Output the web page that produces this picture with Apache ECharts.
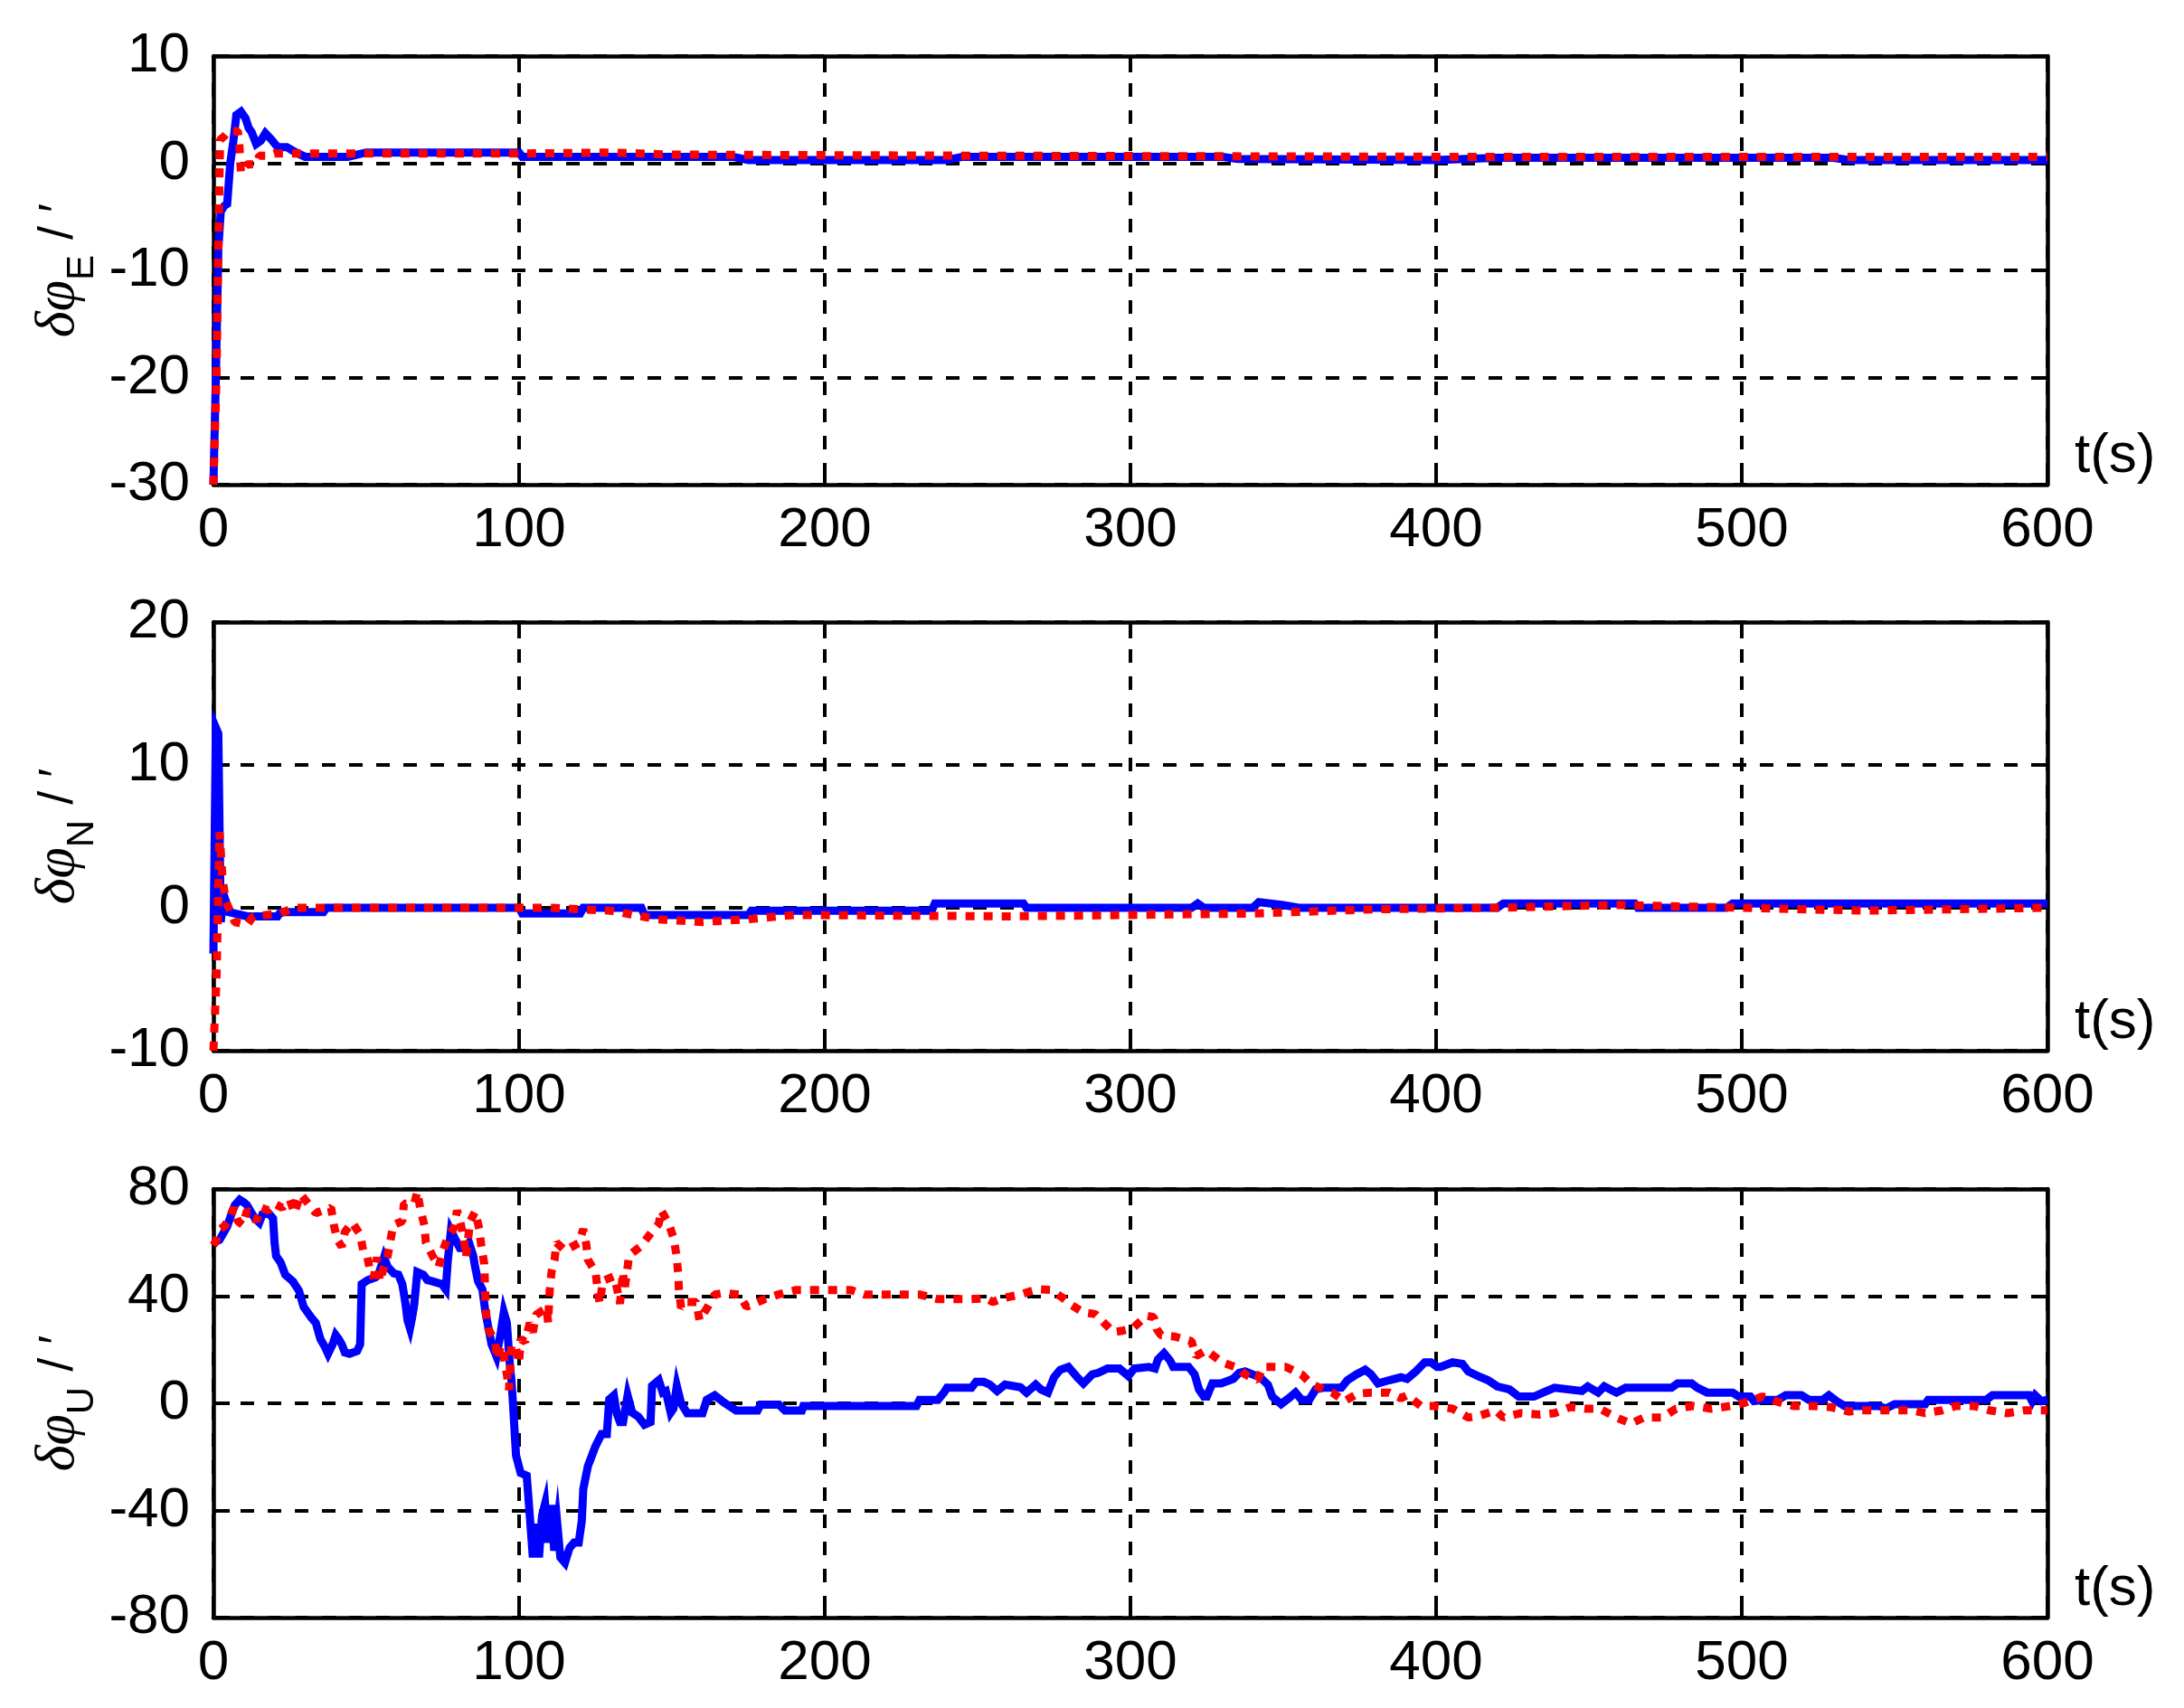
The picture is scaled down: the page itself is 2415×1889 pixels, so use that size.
<!DOCTYPE html>
<html>
<head>
<meta charset="utf-8">
<script src="https://cdn.jsdelivr.net/npm/echarts@6/dist/echarts.min.js"></script>
<style>html,body{margin:0;padding:0;background:#fff}#c{width:2415px;height:1889px}</style>
</head>
<body>
<div id="c"></div>
<script>
// ---- data (t in s, value in arc-minutes) ----
var xTicks = [0, 100, 200, 300, 400, 500, 600];
var yLabelsE = [-30, -20, -10, 0, 10];
var yLabelsN = [-10, 0, 10, 20];
var yLabelsU = [-80, -40, 0, 40, 80];

var blueE = [[0,-30],[0.8,-20],[1.6,-8],[2.4,-4.5],[3.5,-4],[4.5,-3.8],[5.5,0],[6.5,2],[7.5,4.5],[9,4.8],[10.5,4.2],[11.5,3.3],[12.5,2.9],[14,1.8],[15.5,2.1],[17,2.8],[19,2.2],[21,1.5],[24,1.5],[27,1.0],[30,0.6],[44,0.6],[50,1.0],[100,1.0],[101,0.6],[170,0.6],[175,0.3],[240,0.3],[245,0.6],[330,0.6],[335,0.4],[400,0.3],[420,0.5],[530,0.5],[535,0.3],[600,0.3]];
var redE = [[0,-30],[1,-20],[1.8,-4.3],[2.2,2.2],[3.5,2.5],[5,3],[8,3],[8.5,1.6],[9,-0.9],[11,-0.1],[14,-0.1],[15,0.7],[18,0.7],[20,0.9],[100,0.9],[130,1.0],[150,0.8],[250,0.7],[400,0.6],[600,0.6]];

var blueN = [[0,-3.2],[0.8,12.6],[1.6,12.2],[2.4,-1],[3.2,1],[4,0.5],[5,-0.3],[11,-0.6],[21,-0.6],[22,-0.3],[36,-0.3],[37,0],[100,0],[101,-0.4],[120,-0.4],[121,0],[140,0],[141,-0.5],[175,-0.5],[176,-0.2],[235,-0.2],[236,0.3],[265,0.3],[266,0],[320,0],[322,0.3],[324,0],[340,0],[342,0.4],[350,0.2],[355,0],[420,0],[422,0.3],[465,0.3],[466,0],[495,0],[497,0.3],[600,0.3]];
var redN = [[0,-10],[1,-5],[2,5.3],[3,2],[4,0.5],[5,0],[7,-1],[11,-1.2],[13,-0.6],[22,-0.4],[26,0],[110,0],[130,-0.2],[145,-0.8],[160,-1],[175,-0.8],[190,-0.5],[260,-0.6],[300,-0.5],[340,-0.4],[380,-0.1],[420,0],[460,0.2],[500,0],[540,-0.2],[600,0]];

var blueU = [[0,60],[2,61],[3,63],[4.5,66],[5.7,70],[7,74],[8.6,76],[10,75],[11,74],[12.5,71],[13.6,69],[15,67.5],[16,70.5],[18,71],[19.5,69],[20,60],[20.5,55],[22,52.5],[23.5,48],[26,45.5],[28,42],[29.5,36],[32,32],[33.5,30],[35,24],[36.5,21],[37.5,18.5],[39,22],[40,25.5],[41,24],[42,22],[43,19],[44.5,18.5],[47,19.5],[48,22],[48.5,44.5],[50.5,46],[53,47],[54,48],[55.8,54.5],[57,51],[59,48.5],[60.5,48],[61.8,44.5],[62.8,37.5],[63.5,31],[64.3,28],[65,32],[65.7,37],[66.7,49],[68.7,48],[70,46],[71.7,45.5],[74.7,44.5],[76,42.5],[76.7,53.5],[77.7,64.5],[79,61.5],[80.6,58],[82,58],[83.6,60],[85,55],[85.6,51],[86.6,45.5],[88,42.5],[89,34],[90,28],[91,22],[92.6,17.5],[94,26.5],[95,34],[96,30],[96.5,22],[97,14],[97.5,8.5],[98,0],[99,-19.5],[100.5,-26],[102.5,-27],[103.5,-42],[104.5,-57.5],[105.5,-45],[106.5,-57.5],[107.5,-42],[108.5,-37.5],[109.5,-52],[110.5,-38],[111.5,-55],[112.5,-45],[113.5,-57.5],[115,-59.5],[116.5,-54],[118,-52],[119.5,-52],[120.5,-44],[121,-32],[122.5,-23.5],[125,-16],[127,-11.5],[128.7,-11.5],[129.5,1.5],[131,3],[132,-4],[133,-7],[134,-7],[135.5,3],[137,-3.5],[139,-5],[141,-8],[143,-7],[143.5,6.5],[145.7,8.6],[147,4],[148,4.5],[149.6,-3.5],[150.5,-2],[151.6,6.5],[153,0],[155,-3.7],[160,-3.7],[161.4,1.3],[164,3],[167,0.3],[171,-2.7],[178,-2.7],[179,-0.5],[185,-0.5],[187,-2.7],[192.5,-2.7],[193,-1],[230,-1],[231,1.3],[237,1.3],[239,4],[240,5.8],[248,5.8],[249.5,8],[252,8],[254,7],[256.4,4.6],[259,7],[264,6],[266,4],[269,7],[270.7,5.2],[273,4],[275,9.7],[277,12.5],[279.7,13.6],[282.6,9.7],[284.6,7.4],[287.5,10.8],[289.5,11.4],[292.5,13],[296.4,13],[299.3,10.2],[301.3,13],[306,13.6],[308,13],[309,16.4],[311,18.7],[313,15.9],[314,13.6],[319,13.6],[321,10.8],[322.4,5.2],[324,2.5],[325,2.5],[326.8,7.4],[329.7,7.4],[333.6,9.1],[335.6,11.4],[337.5,11.9],[342.4,9.7],[345,6.9],[346.4,2.5],[349.3,-0.3],[351.8,1.9],[354,4],[356,1.3],[358.5,1.3],[360.6,5.2],[363,5.8],[369,5.8],[371,8.6],[374,10.8],[376.8,12.5],[378.7,10.8],[381,7.4],[384.6,8.6],[388.5,9.7],[390.5,9.1],[393.4,11.9],[396.3,15.3],[398.3,15.3],[400.3,13.6],[401.5,13.6],[405.4,15.3],[408.6,14.7],[410.5,11.9],[413.7,10.2],[417,8.6],[420,6.3],[424,5.2],[427,2.5],[432,2.5],[435,4],[438.7,5.8],[447.7,4.6],[449.6,6.3],[453,4],[455,6.3],[459,4],[462,5.8],[477,5.8],[479,7.4],[483.6,7.4],[485.5,5.8],[488.7,4],[497,4],[499,2.5],[502.8,2.5],[504,0.8],[508,1.3],[511.8,1.3],[514.4,3],[519.5,3],[522,1.3],[526.5,1.3],[528.5,3],[531,0.8],[533.6,-1],[545,-1],[547,-2],[550,-0.3],[560,-0.3],[561,1.3],[580,1.3],[582,3],[594,3],[595,0.8],[596,3],[598,0.8],[600,1.3]];

var redU = [[0,59],[1,61],[2.2,65],[3.5,66],[4.7,68],[6.7,73],[8,68],[9.6,66.5],[11,72],[12.6,70.5],[14,68],[15.6,73],[18,72],[20,74.5],[22.5,73],[25,76],[26.5,71],[28.5,78],[30,76],[32,73],[33.5,71],[36,72],[38.5,73],[39.5,66],[40.5,61],[42,58.5],[43,64],[45.4,67.5],[48,63],[49,57],[50.3,55],[51.3,49],[52.5,47],[53.5,54.5],[54.5,45.5],[55.8,51],[57,55],[57.8,60],[58.8,66.5],[61.8,68],[62.3,74.5],[65.7,74.5],[66.7,79],[67.7,72.5],[69,66.5],[69.5,60],[71.7,55],[73.7,51],[75.2,57.5],[76.7,62],[78.7,65.5],[79.7,72],[81,66.5],[82,61],[82.6,54.5],[84,68],[85.6,71.5],[87,65],[87.6,59],[88.6,52],[88.8,45.5],[89,39],[89.3,32.5],[90,27.5],[92,23.5],[93,16.5],[94,21.5],[95,17.5],[96,10.8],[96.7,5],[97.5,22],[99,20.5],[100,15],[100.5,24],[102,23],[103.5,30],[104.5,26.5],[105.5,33],[107.5,34.5],[109,35.5],[109.5,30],[110,42],[110.6,49],[111.6,53.6],[112.2,60],[115,57],[119.5,59.8],[121,65],[122,59.2],[122.5,53.6],[125,49],[126,40],[126.4,37.2],[127.4,45.7],[131,47.4],[132,43],[133,37.2],[134,49],[134.5,42.3],[136,55.2],[137.3,56.4],[139.8,58.6],[141.7,61.4],[143.2,63.7],[145.7,67],[146.5,72],[149,67],[150.6,61.4],[151.5,55.2],[152,49],[152.3,42.3],[153,35.6],[154.6,37.8],[158,37.8],[159,31],[161.5,35.6],[164,40.6],[167,41.2],[172,40.6],[174.4,36],[180.3,38.9],[184.8,40.6],[190.7,42.3],[208.5,42.3],[213,40.6],[231,40.6],[237,38.9],[247.4,38.9],[252.7,39.2],[255,37.8],[258,39.2],[264,40.6],[267,41.7],[270,42.6],[274,42.3],[277.7,39.5],[280.7,36.7],[284.6,33.9],[288.5,33.3],[290.5,31],[294.4,26.6],[297,27],[300.8,28],[305.2,32.7],[307.6,32.2],[308.6,27.7],[310,25.4],[314.5,24.9],[320,23.2],[321.4,17.6],[324.8,19.8],[330,15.3],[335.6,13],[337.5,10.8],[341.5,8.6],[343.4,13.6],[350.8,13.6],[356,10.8],[359,7.4],[363,5.2],[366,4],[370,0.8],[374.3,3.6],[378.7,4],[384.6,4],[388.5,1.9],[390.5,3],[395,-1],[399.3,-1],[405.4,-2],[410.5,-5.3],[413.7,-4.8],[419.5,-2.7],[422,-5.3],[427.8,-3.7],[434,-4.2],[438.7,-3.7],[444,-1.4],[449,-2],[453.5,-2],[459,-5.3],[463.7,-7.6],[468,-5.3],[474,-5.3],[478.5,-2],[484,-1],[490,-2],[496.4,-1],[501,0.2],[506.7,2.5],[511,0.8],[517,-1],[522.7,-1],[529,-1.4],[535,-3.1],[539,-2.6],[555.4,-2.6],[560,-3.7],[565.6,-2.6],[570,-1],[576,-1],[581,-2.6],[586.8,-3.7],[592.6,-2.6],[600,-2.6]];

var panels = [
  {sub: 'E', ymin: -30, ymax: 10, step: 10, blue: blueE, red: redE},
  {sub: 'N', ymin: -10, ymax: 20, step: 10, blue: blueN, red: redN},
  {sub: 'U', ymin: -80, ymax: 80, step: 40, blue: blueU, red: redU}
];
var tops = [62, 688, 1315];

var FONT = "'Liberation Sans', Arial, sans-serif";
var LBL = 62;
var grids = [], xAxes = [], yAxes = [], series = [];
panels.forEach(function (p, i) {
  grids.push({left: 236, top: tops[i], width: 2028, height: 474, outerBoundsMode: 'none', containLabel: false});
  var axLine = {show: true, onZero: false, lineStyle: {color: '#000', width: 4.5}};
  var tick = {show: true, inside: true, length: 18, lineStyle: {color: '#000', width: 4}};
  var split = {show: true, lineStyle: {color: '#000', width: 4, type: [15, 15]}};
  xAxes.push({
    type: 'value', gridIndex: i, min: 0, max: 600, interval: 100, position: 'bottom',
    axisLine: axLine, axisTick: tick, splitLine: split,
    axisLabel: {show: true, margin: 20, fontSize: LBL, fontFamily: FONT, color: '#000'},
    name: 't(s)', nameLocation: 'end', nameGap: 30, nameMoveOverlap: false,
    nameTextStyle: {fontSize: LBL, fontFamily: FONT, color: '#000', verticalAlign: 'bottom', align: 'left'}
  });
  xAxes.push({
    type: 'value', gridIndex: i, min: 0, max: 600, interval: 100, position: 'top',
    axisLine: axLine, axisTick: tick, splitLine: {show: false}, axisLabel: {show: false}
  });
  yAxes.push({
    type: 'value', gridIndex: i, min: p.ymin, max: p.ymax, interval: p.step, position: 'left',
    axisLine: axLine, axisTick: tick, splitLine: split,
    axisLabel: {show: true, margin: 26, fontSize: LBL, fontFamily: FONT, color: '#000'},
    name: '{g|δφ}{s|' + p.sub + '}{p| / ′}', nameLocation: 'middle', nameRotate: 90, nameGap: 124, nameMoveOverlap: false,
    nameTextStyle: {
      color: '#000',
      rich: {
        g: {fontSize: 62, fontFamily: "'Liberation Serif', 'DejaVu Serif', serif", fontStyle: 'italic', color: '#000'},
        s: {fontSize: 42, fontFamily: FONT, color: '#000', padding: [52, 2, 0, 0]},
        p: {fontSize: 54, fontFamily: FONT, color: '#000'}
      }
    }
  });
  yAxes.push({
    type: 'value', gridIndex: i, min: p.ymin, max: p.ymax, interval: p.step, position: 'right',
    axisLine: axLine, axisTick: tick, splitLine: {show: false}, axisLabel: {show: false}
  });
  series.push({
    type: 'line', xAxisIndex: 2 * i, yAxisIndex: 2 * i, data: p.blue, symbol: 'none', clip: true,
    lineStyle: {color: '#0000ff', width: 9, cap: 'butt', join: 'miter'}, z: 3
  });
  series.push({
    type: 'line', xAxisIndex: 2 * i, yAxisIndex: 2 * i, data: p.red, symbol: 'none', clip: true,
    lineStyle: {color: '#ff0000', width: 9, type: [10, 10], cap: 'butt'}, z: 4
  });
});

var chart = echarts.init(document.getElementById('c'), null, {renderer: 'canvas'});
chart.setOption({
  animation: false,
  backgroundColor: '#ffffff',
  grid: grids, xAxis: xAxes, yAxis: yAxes, series: series
});
</script>
</body>
</html>
